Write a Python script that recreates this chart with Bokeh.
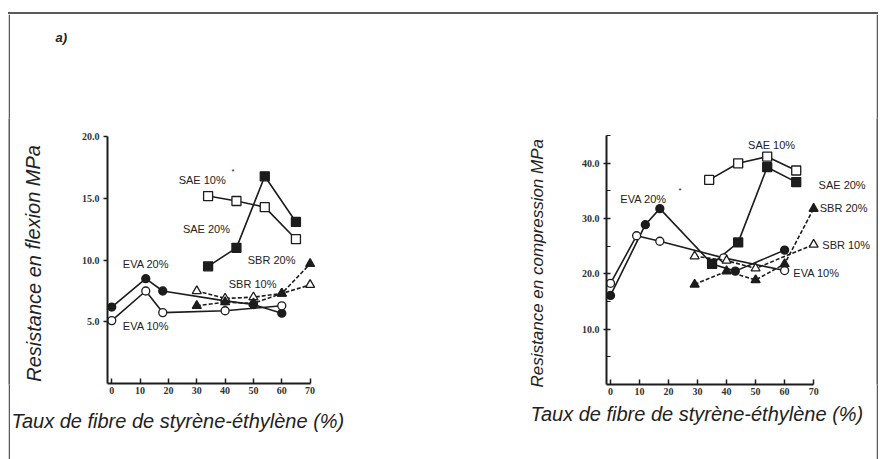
from bokeh.plotting import figure
from bokeh.layouts import row, column
from bokeh.models import FixedTicker, PrintfTickFormatter, Label, Range1d, Title, Spacer, Div
from bokeh.embed import file_html
from bokeh.resources import INLINE

# ---------------- data: flexion (left) ----------------
flex_sae10_x = [34, 44, 54, 65]
flex_sae10_y = [15.2, 14.8, 14.3, 11.7]
flex_sae20_x = [34, 44, 54, 65]
flex_sae20_y = [9.5, 11.0, 16.8, 13.1]
flex_eva20_x = [0, 12, 18, 40, 50, 60]
flex_eva20_y = [6.2, 8.5, 7.5, 6.7, 6.4, 5.7]
flex_eva10_x = [0, 12, 18, 40, 60]
flex_eva10_y = [5.1, 7.5, 5.75, 5.9, 6.3]
flex_sbr10_x = [30, 40, 50, 60, 70]
flex_sbr10_y = [7.5, 6.9, 7.0, 7.3, 8.0]
flex_sbr20_x = [30, 40, 50, 60, 70]
flex_sbr20_y = [6.3, 6.6, 6.5, 7.3, 9.7]

# ---------------- data: compression (right) ----------------
comp_sae10_x = [34, 44, 54, 64]
comp_sae10_y = [37.0, 40.0, 41.2, 38.7]
comp_sae20_x = [35, 44, 54, 64]
comp_sae20_y = [21.8, 25.7, 39.3, 36.6]
comp_eva20_x = [0, 12, 17, 35, 43, 60]
comp_eva20_y = [16.1, 28.9, 31.8, 21.8, 20.5, 24.3]
comp_eva10_x = [0, 9, 17, 39, 60]
comp_eva10_y = [18.3, 26.9, 25.9, 22.9, 20.6]
comp_sbr10_x = [29, 40, 50, 70]
comp_sbr10_y = [23.2, 22.4, 21.0, 25.3]
comp_sbr20_x = [29, 40, 50, 60, 70]
comp_sbr20_y = [18.1, 20.5, 18.9, 21.8, 31.8]

x_ticks = [0, 10, 20, 30, 40, 50, 60, 70]
flex_ticks = [5, 10, 15, 20]
comp_ticks = [10, 20, 30, 40]
comp_minor = [5, 15, 25, 35, 45]

x_title = "Taux de fibre de styrène-éthylène (%)"
flex_title = "Resistance en flexion MPa"
comp_title = "Resistance en compression MPa"
panel_tag = "a)"

INK = "#1c1c1c"
FRAME = "#5a5a5a"
TXT = "#222222"
LBL = dict(text_font="Liberation Sans", text_font_size="11px", text_color=TXT)


def base_fig(w, h, xr, yr, mb):
    p = figure(width=w, height=h, x_range=Range1d(*xr), y_range=Range1d(*yr),
               output_backend="svg", toolbar_location=None, title=None,
               min_border_left=mb[0], min_border_right=mb[1],
               min_border_top=mb[2], min_border_bottom=mb[3])
    p.grid.visible = False
    p.outline_line_color = None
    p.background_fill_color = "white"
    p.border_fill_color = "white"
    for ax in (p.xaxis[0], p.yaxis[0]):
        ax.axis_line_width = 2
        ax.axis_line_color = INK
        ax.major_tick_line_color = INK
        ax.major_tick_line_width = 1.5
        ax.minor_tick_line_color = INK
        ax.major_label_text_font = "Liberation Serif"
        ax.major_label_text_font_style = "bold"
        ax.major_label_text_font_size = "10px"
        ax.major_label_text_color = "#333333"
    xa = p.xaxis[0]
    xa.ticker = FixedTicker(ticks=x_ticks, minor_ticks=[])
    xa.major_tick_in = 5
    xa.major_tick_out = 0
    xa.major_label_standoff = 3
    xa.bounds = (xr[0], 70)
    return p


def series(p, xs, ys, marker, filled, dash="solid", size=8):
    p.line(xs, ys, line_color=INK, line_width=1.6, line_dash=dash)
    p.scatter(xs, ys, marker=marker, size=size, line_color=INK, line_width=1.3,
              fill_color=INK if filled else "white")


def strip(w, h, fill="white"):
    f = figure(width=w, height=h, x_range=Range1d(0, w), y_range=Range1d(0, h),
               output_backend="svg", toolbar_location=None, title=None,
               x_axis_type=None, y_axis_type=None, min_border=0)
    f.grid.visible = False
    f.outline_line_color = None
    f.background_fill_color = fill
    f.border_fill_color = fill
    return f


def text_label(text, x, y, size, style="italic", angle=0.0, align="left"):
    return Label(x=x, y=y, text=text, angle=angle, text_align=align, text_baseline="middle",
                 text_font="Liberation Sans", text_font_style=style,
                 text_font_size=size, text_color=TXT)


# ---------------- left chart ----------------
pl = base_fig(370, 289, (-1.5, 77.9), (0, 21.65), (37, 108, 0, 22))
ya = pl.yaxis[0]
ya.ticker = FixedTicker(ticks=flex_ticks, minor_ticks=[])
ya.formatter = PrintfTickFormatter(format="%.1f")
ya.major_tick_in = 0
ya.major_tick_out = 4
ya.major_label_standoff = 4
ya.bounds = (0, 20)

series(pl, flex_sae10_x, flex_sae10_y, "square", False, size=9)
series(pl, flex_sae20_x, flex_sae20_y, "square", True, size=9)
series(pl, flex_eva20_x, flex_eva20_y, "circle", True)
series(pl, flex_eva10_x, flex_eva10_y, "circle", False)
series(pl, flex_sbr10_x, flex_sbr10_y, "triangle", False, dash="4 2", size=9)
series(pl, flex_sbr20_x, flex_sbr20_y, "triangle", True, dash="4 2", size=9)

for txt, x, y in [("SAE 10%", 23.6, 16.5), ("SAE 20%", 25.1, 12.5), ("EVA 20%", 3.9, 9.7),
                  ("EVA 10%", 3.9, 4.7), ("SBR 20%", 48.0, 10.0), ("SBR 10%", 41.3, 8.1)]:
    pl.add_layout(Label(x=x, y=y, text=txt, text_baseline="middle", text_align="left", **LBL))
pl.add_layout(Label(x=42.3, y=16.8, text="*", text_font_size="8px", text_color=TXT))

# strips around the left chart (tag, y title, x title)
a_strip = strip(430, 102)
a_strip.add_layout(text_label(panel_tag, 45, 79, "13px", style="bold italic"))
y_strip = strip(60, 289)
y_strip.add_layout(text_label(flex_title, 23, 130, "20px", angle=1.5708, align="center"))
x_strip = strip(430, 54)
x_strip.add_layout(text_label(x_title, 1, 39, "20px"))

left_block = column(a_strip, row(y_strip, pl), x_strip)

# ---------------- right chart ----------------
pr = base_fig(436, 445, (-1.38, 89.6), (0, 48.1), (166, 6, 104, 75))
ya = pr.yaxis[0]
ya.ticker = FixedTicker(ticks=comp_ticks, minor_ticks=comp_minor)
ya.formatter = PrintfTickFormatter(format="%.1f")
ya.major_tick_in = 4
ya.major_tick_out = 3
ya.minor_tick_in = 4
ya.minor_tick_out = 0
ya.major_label_standoff = 4
ya.bounds = (0, 45)

series(pr, comp_sae10_x, comp_sae10_y, "square", False, size=9)
series(pr, comp_sae20_x, comp_sae20_y, "square", True, size=9)
series(pr, comp_eva20_x, comp_eva20_y, "circle", True)
series(pr, comp_eva10_x, comp_eva10_y, "circle", False)
series(pr, comp_sbr10_x, comp_sbr10_y, "triangle", False, dash="4 2", size=9)
series(pr, comp_sbr20_x, comp_sbr20_y, "triangle", True, dash="4 2", size=9)

for txt, x, y in [("SAE 10%", 47.4, 43.3), ("SAE 20%", 71.7, 36.0), ("SBR 20%", 72.1, 31.9),
                  ("SBR 10%", 73.0, 25.2), ("EVA 10%", 63.0, 20.1), ("EVA 20%", 3.4, 33.5)]:
    pr.add_layout(Label(x=x, y=y, text=txt, text_baseline="middle", text_align="left", **LBL))
pr.add_layout(Label(x=23.4, y=34.2, text="*", text_font_size="8px", text_color=TXT))

pr.add_layout(Title(text=comp_title, text_font="Liberation Sans", text_font_style="italic",
                    text_font_size="17px", text_color=TXT, align="left", offset=-3,
                    standoff=63), "left")
pr.add_layout(Title(text=x_title, text_font="Liberation Sans", text_font_style="italic",
                    text_font_size="20px", text_color=TXT, align="left", offset=-76,
                    standoff=6), "below")

# ---------------- page with border ----------------
H = 445
page = column(
    Spacer(width=880, height=12),
    row(Spacer(width=8, height=2),
        Div(text="", width=870, height=2, margin=0, styles={"background-color": FRAME})),
    row(Spacer(width=8, height=H), strip(2, H, FRAME), left_block, pr, strip(2, H, FRAME)),
)
open("out.html", "w").write(file_html(page, INLINE))
